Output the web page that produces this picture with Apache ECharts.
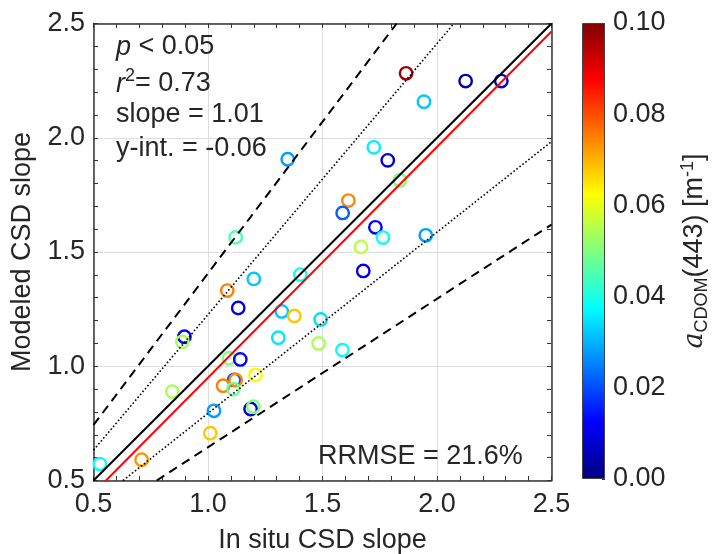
<!DOCTYPE html>
<html>
<head>
<meta charset="utf-8">
<script src="https://cdn.jsdelivr.net/npm/echarts@6/dist/echarts.min.js"></script>
<style>
  html, body { margin: 0; padding: 0; background: #fff; }
  #chart { width: 719px; height: 554px; }
</style>
</head>
<body>
<div id="chart"></div>
<script>
// Observed (in situ) vs. modeled CSD slope, coloured by a_CDOM(443)
const inSitu = [1.348, 1.121, 1.865, 2.125, 2.281, 1.943, 1.724, 1.785, 1.838, 1.613,
                1.588, 1.731, 1.764, 1.668, 1.951, 1.200, 1.084, 1.132, 1.403, 1.322,
                1.377, 1.492, 1.307, 1.483, 0.897, 0.888, 0.844, 1.092, 1.141, 1.114,
                1.121, 1.066, 1.111, 1.207, 1.026, 1.186, 1.198, 1.010, 0.710, 0.528,
                1.678, 1.587];
const modeled = [1.906, 1.564, 2.282, 2.248, 2.248, 2.158, 1.958, 1.901, 1.814, 1.725,
                 1.671, 1.608, 1.563, 1.522, 1.573, 1.382, 1.331, 1.255, 1.401, 1.240,
                 1.220, 1.205, 1.125, 1.100, 1.129, 1.107, 0.889, 1.035, 1.030, 0.940,
                 0.940, 0.915, 0.900, 0.962, 0.805, 0.813, 0.823, 0.707, 0.591, 0.572,
                 1.417, 1.071];
const aCdom = [0.028, 0.045, 0.097, 0.005, 0.008, 0.032, 0.036, 0.009, 0.050, 0.074,
               0.022, 0.012, 0.038, 0.056, 0.028, 0.032, 0.075, 0.010, 0.038, 0.032,
               0.068, 0.034, 0.035, 0.054, 0.012, 0.054, 0.054, 0.050, 0.013, 0.020,
               0.074, 0.075, 0.048, 0.063, 0.028, 0.008, 0.050, 0.068, 0.073, 0.038,
               0.011, 0.038];

// Regression statistics
const fitSlope = 1.01;
const fitIntercept = -0.06;
const pText = '0.05';
const r2Text = '0.73';
const rrmseText = '21.6%';

// Reference envelopes around the 1:1 line (end points)
const upperDashed = [[0.5, 0.743], [1.824, 2.5]];
const upperDotted = [[0.5, 0.633], [2.074, 2.5]];
const lowerDotted = [[0.629, 0.5], [2.5, 1.983]];
const lowerDashed = [[0.776, 0.5], [2.5, 1.62]];

// Axis ranges
const axisMin = 0.5, axisMax = 2.5, axisStep = 0.5;
const cbarMin = 0, cbarMax = 0.1, cbarStep = 0.02;

// MATLAB "jet" colour map
const jetColors = ['#000080', '#0000ff', '#0080ff', '#00ffff', '#80ff80',
                   '#ffff00', '#ff8000', '#ff0000', '#800000'];

const FONT = '"Liberation Sans", Arial, Helvetica, sans-serif';
const TXT = '#262626';
const AX = '#333333';
const FS = 27;

const oneToOne = [[axisMin, axisMin], [axisMax, axisMax]];
const fitLine = [axisMin, axisMax].map(x => [x, fitSlope * x + fitIntercept]);
const points = inSitu.map((x, i) => [x, modeled[i], aCdom[i]]);

const chart = echarts.init(document.getElementById('chart'), null, { renderer: 'canvas' });

const mainValueAxis = (extra) => Object.assign({
  type: 'value',
  gridIndex: 0,
  min: axisMin,
  max: axisMax,
  interval: axisStep,
  axisLine: { show: true, onZero: false, lineStyle: { color: AX, width: 1.5 } },
  axisTick: { show: true, inside: true, length: 4.5, lineStyle: { color: AX, width: 1 } },
  minorTick: { show: true, splitNumber: 5, length: 4.5, lineStyle: { color: AX, width: 1 } },
  splitLine: { show: false },
  axisLabel: { show: false }
}, extra);

const option = {
  backgroundColor: '#ffffff',
  animation: false,
  textStyle: { fontFamily: FONT },
  grid: [
    { left: 93.5, top: 23.5, width: 458, height: 457, containLabel: false, outerBoundsMode: 'none' },
    { left: 582, top: 23, width: 23, height: 456, containLabel: false, outerBoundsMode: 'none' }
  ],
  xAxis: [
    mainValueAxis({
      position: 'bottom',
      splitLine: { show: true, lineStyle: { color: '#dedede', width: 1 } },
      axisLabel: { show: true, color: TXT, fontSize: FS, fontFamily: FONT, margin: 11,
                   formatter: v => v.toFixed(1) },
      name: 'In situ CSD slope',
      nameLocation: 'middle',
      nameGap: 47,
      nameTextStyle: { color: TXT, fontSize: FS, fontFamily: FONT }
    }),
    mainValueAxis({ position: 'top' }),
    { type: 'category', gridIndex: 1, data: ['c'], show: false, boundaryGap: true }
  ],
  yAxis: [
    mainValueAxis({
      position: 'left',
      splitLine: { show: true, lineStyle: { color: '#dedede', width: 1 } },
      axisLabel: { show: true, color: TXT, fontSize: FS, fontFamily: FONT, margin: 8.5,
                   formatter: v => v.toFixed(1) },
      name: 'Modeled CSD slope',
      nameLocation: 'middle',
      nameRotate: 90,
      nameGap: 57,
      nameTextStyle: { color: TXT, fontSize: FS, fontFamily: FONT }
    }),
    mainValueAxis({ position: 'right' }),
    {
      type: 'value',
      gridIndex: 1,
      position: 'right',
      min: cbarMin,
      max: cbarMax,
      interval: cbarStep,
      axisLine: { show: false },
      axisTick: { show: true, inside: true, length: 3, lineStyle: { color: AX, width: 1 } },
      splitLine: { show: false },
      axisLabel: { show: true, color: TXT, fontSize: FS, fontFamily: FONT, margin: 8,
                   formatter: v => v.toFixed(2) },
      name: '{i|a}{sub|CDOM}{n|(443) [m}{sup|-1}{n|]}',
      nameLocation: 'middle',
      nameRotate: 90,
      nameGap: 74,
      nameTextStyle: {
        color: TXT, fontSize: FS, fontFamily: FONT,
        rich: {
          n: { fontSize: FS, lineHeight: 32, verticalAlign: 'middle', color: TXT, fontFamily: FONT },
          i: { fontSize: FS, lineHeight: 32, verticalAlign: 'middle', color: TXT, fontFamily: '"DejaVu Serif", serif', fontStyle: 'italic' },
          sub: { fontSize: 18, lineHeight: 18, verticalAlign: 'bottom', color: TXT, fontFamily: FONT },
          sup: { fontSize: 18, lineHeight: 16, verticalAlign: 'top', color: TXT, fontFamily: FONT }
        }
      }
    }
  ],
  visualMap: {
    type: 'continuous',
    show: false,
    min: cbarMin,
    max: cbarMax,
    dimension: 2,
    seriesIndex: 0,
    inRange: { color: jetColors }
  },
  series: [
    {
      type: 'custom',
      name: 'samples',
      xAxisIndex: 0,
      yAxisIndex: 0,
      coordinateSystem: 'cartesian2d',
      data: points,
      encode: { x: 0, y: 1 },
      z: 3,
      renderItem: (params, api) => {
        const p = api.coord([api.value(0), api.value(1)]);
        return {
          type: 'circle',
          shape: { cx: p[0], cy: p[1], r: 6.2 },
          style: { fill: 'none', stroke: api.visual('color'), lineWidth: 2.4 }
        };
      }
    },
    {
      type: 'line', name: '1:1', xAxisIndex: 0, yAxisIndex: 0, data: oneToOne,
      showSymbol: false, clip: true, z: 4,
      lineStyle: { color: '#000000', width: 2 }
    },
    {
      type: 'line', name: 'fit', xAxisIndex: 0, yAxisIndex: 0, data: fitLine,
      showSymbol: false, clip: true, z: 4,
      lineStyle: { color: '#ff0000', width: 2 }
    },
    {
      type: 'line', name: 'upper dotted', xAxisIndex: 0, yAxisIndex: 0, data: upperDotted,
      showSymbol: false, clip: true, z: 4,
      lineStyle: { color: '#000000', width: 1.6, type: [1.6, 2.2] }
    },
    {
      type: 'line', name: 'lower dotted', xAxisIndex: 0, yAxisIndex: 0, data: lowerDotted,
      showSymbol: false, clip: true, z: 4,
      lineStyle: { color: '#000000', width: 1.6, type: [1.6, 2.2] }
    },
    {
      type: 'line', name: 'upper dashed', xAxisIndex: 0, yAxisIndex: 0, data: upperDashed,
      showSymbol: false, clip: true, z: 4,
      lineStyle: { color: '#000000', width: 2, type: [9, 6] }
    },
    {
      type: 'line', name: 'lower dashed', xAxisIndex: 0, yAxisIndex: 0, data: lowerDashed,
      showSymbol: false, clip: true, z: 4,
      lineStyle: { color: '#000000', width: 2, type: [9, 6] }
    },
    {
      type: 'bar', name: 'colorbar', xAxisIndex: 2, yAxisIndex: 2,
      data: [cbarMax], barWidth: '100%', silent: true,
      itemStyle: {
        borderColor: '#444444', borderWidth: 1,
        color: new echarts.graphic.LinearGradient(0, 1, 0, 0,
          jetColors.map((c, i) => ({ offset: i / (jetColors.length - 1), color: c })))
      }
    }
  ],
  graphic: [
    {
      type: 'text', x: 116, y: 47, z: 10,
      style: {
        text: '{i|p} < ' + pText, fill: TXT, font: FS + 'px ' + FONT,
        align: 'left', verticalAlign: 'middle', textAlign: 'left', textVerticalAlign: 'middle',
        rich: {
          i: { fontStyle: 'italic', fontSize: FS, fontFamily: FONT, fill: TXT }
        }
      }
    },
    {
      type: 'text', x: 116, y: 84, z: 10,
      style: {
        text: '{i|r}{sup|2}{n|= ' + r2Text + '}', fill: TXT, font: FS + 'px ' + FONT,
        align: 'left', verticalAlign: 'middle', textAlign: 'left', textVerticalAlign: 'middle',
        rich: {
          i: { fontStyle: 'italic', fontSize: FS, lineHeight: 34, verticalAlign: 'middle', fontFamily: FONT, fill: TXT },
          n: { fontSize: FS, lineHeight: 34, verticalAlign: 'middle', fontFamily: FONT, fill: TXT },
          sup: { fontSize: 18, lineHeight: 18, verticalAlign: 'top', fontFamily: FONT, fill: TXT }
        }
      }
    },
    {
      type: 'text', x: 116, y: 114.5, z: 10,
      style: {
        text: 'slope = ' + fitSlope.toFixed(2), fill: TXT, font: FS + 'px ' + FONT,
        align: 'left', verticalAlign: 'middle', textAlign: 'left', textVerticalAlign: 'middle'
      }
    },
    {
      type: 'text', x: 116, y: 149, z: 10,
      style: {
        text: 'y-int. = ' + fitIntercept.toFixed(2), fill: TXT, font: FS + 'px ' + FONT,
        align: 'left', verticalAlign: 'middle', textAlign: 'left', textVerticalAlign: 'middle'
      }
    },
    {
      type: 'text', x: 318, y: 457, z: 10,
      style: {
        text: 'RRMSE = ' + rrmseText, fill: TXT, font: FS + 'px ' + FONT,
        align: 'left', verticalAlign: 'middle', textAlign: 'left', textVerticalAlign: 'middle'
      }
    }
  ]
};

chart.setOption(option);
</script>
</body>
</html>
